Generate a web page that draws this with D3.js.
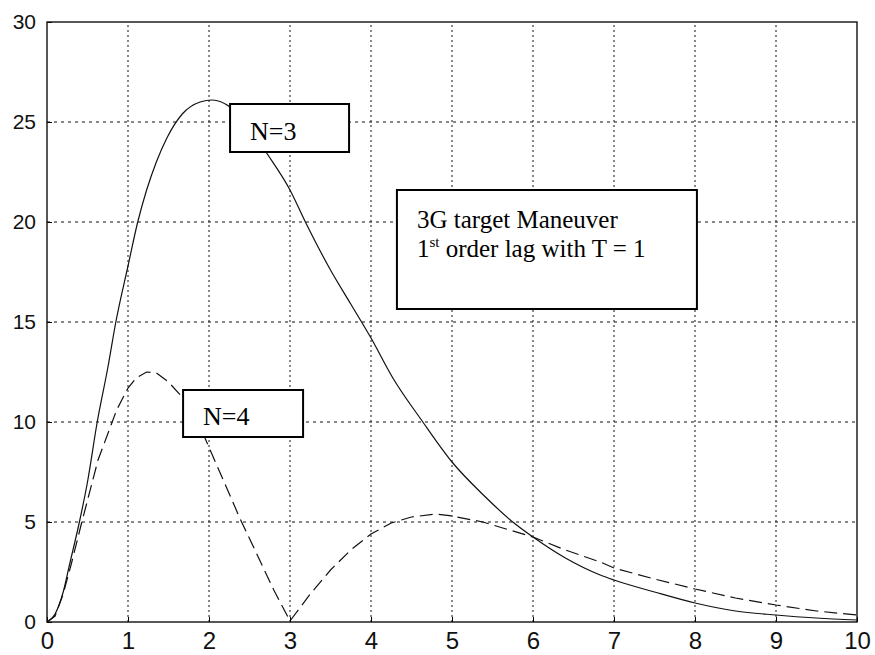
<!DOCTYPE html>
<html>
<head>
<meta charset="utf-8">
<script src="https://cdn.jsdelivr.net/npm/d3@7"></script>
<style>
  body { margin: 0; background: #fff; }
  .serif { font-family: "Liberation Serif", "DejaVu Serif", serif; }
</style>
</head>
<body>
<div id="chart"></div>
<script>
// N=3 (solid) and N=4 (dashed) curves
const n3Time  = [0, 0.1, 0.2, 0.28, 0.4, 0.5, 0.62, 0.75, 0.85, 1, 1.12, 1.23, 1.35, 1.48, 1.67, 1.89, 2.04, 2.26, 2.5, 2.72, 3, 3.19, 3.5, 3.75, 4, 4.27, 4.64, 5, 5.4, 5.75, 6, 6.4, 6.83, 7, 7.5, 8, 8.5, 9, 9.5, 10];
const n3Value = [0, 0.4, 1.5, 2.9, 5, 7, 10, 12.7, 15, 17.8, 20, 21.6, 23, 24.2, 25.4, 26, 26.1, 25.75, 24.7, 23.4, 21.6, 20, 17.6, 15.9, 14.2, 12.2, 10, 8, 6.3, 5, 4.25, 3.2, 2.35, 2.1, 1.5, 0.95, 0.55, 0.35, 0.2, 0.1];

const n4Time  = [0, 0.1, 0.2, 0.3, 0.43, 0.63, 0.86, 1, 1.1, 1.23, 1.35, 1.5, 1.68, 1.95, 2.38, 2.8, 3, 3.25, 3.5, 3.75, 4, 4.25, 4.5, 4.8, 5, 5.38, 6, 6.4, 6.83, 7, 7.5, 8, 8.5, 9, 9.5, 10];
const n4Value = [0, 0.3, 1.4, 2.9, 5, 8.1, 10.6, 11.7, 12.2, 12.5, 12.45, 12.0, 11.2, 9.2, 5.2, 1.6, 0.05, 1.4, 2.6, 3.6, 4.4, 4.95, 5.25, 5.4, 5.3, 5.0, 4.25, 3.6, 3.0, 2.7, 2.15, 1.65, 1.2, 0.85, 0.55, 0.35];

const xTickValues = [0, 1, 2, 3, 4, 5, 6, 7, 8, 9, 10];
const yTickValues = [0, 5, 10, 15, 20, 25, 30];

const width = 875;
const height = 655;
const margin = { top: 22, right: 18, bottom: 33, left: 47 };

const svg = d3.select("#chart")
  .append("svg")
  .attr("width", width)
  .attr("height", height);

const x = d3.scaleLinear().domain([0, 10]).range([margin.left, width - margin.right]);
const y = d3.scaleLinear().domain([0, 30]).range([height - margin.bottom, margin.top]);

// dotted grid
svg.append("g")
  .selectAll("line")
  .data(xTickValues.slice(1, -1))
  .join("line")
    .attr("x1", d => x(d)).attr("x2", d => x(d))
    .attr("y1", y(0)).attr("y2", y(30))
    .attr("stroke", "#111")
    .attr("stroke-width", 1)
    .attr("stroke-dasharray", "2,3");

svg.append("g")
  .selectAll("line")
  .data(yTickValues.slice(1, -1))
  .join("line")
    .attr("x1", x(0)).attr("x2", x(10))
    .attr("y1", d => y(d)).attr("y2", d => y(d))
    .attr("stroke", "#111")
    .attr("stroke-width", 1)
    .attr("stroke-dasharray", "3,4");

// axes (ticks inward)
const xAxis = svg.append("g")
  .attr("transform", `translate(0,${y(0)})`)
  .call(d3.axisBottom(x).tickValues(xTickValues).tickSizeInner(-5).tickSizeOuter(0).tickPadding(0));
xAxis.selectAll("text")
  .attr("y", 27)
  .attr("dy", null)
  .attr("font-family", "Liberation Sans, Arial, sans-serif")
  .attr("font-size", 24)
  .attr("fill", "#111");

const yAxis = svg.append("g")
  .attr("transform", `translate(${x(0)},0)`)
  .call(d3.axisLeft(y).tickValues(yTickValues).tickSizeInner(-5).tickSizeOuter(0).tickPadding(11));
yAxis.selectAll("text")
  .attr("font-family", "Liberation Sans, Arial, sans-serif")
  .attr("font-size", 21)
  .attr("fill", "#111");

svg.selectAll(".domain").remove();

// frame
svg.append("rect")
  .attr("x", x(0)).attr("y", y(30))
  .attr("width", x(10) - x(0)).attr("height", y(0) - y(30))
  .attr("fill", "none")
  .attr("stroke", "#111")
  .attr("stroke-width", 1.4);

const line = d3.line()
  .x(d => x(d[0]))
  .y(d => y(d[1]))
  .curve(d3.curveMonotoneX);

svg.append("path")
  .datum(d3.zip(n3Time, n3Value))
  .attr("d", line)
  .attr("fill", "none")
  .attr("stroke", "#111")
  .attr("stroke-width", 1.2);

svg.append("path")
  .datum(d3.zip(n4Time, n4Value))
  .attr("d", line.curve(d3.curveLinear))
  .attr("fill", "none")
  .attr("stroke", "#111")
  .attr("stroke-width", 1.2)
  .attr("stroke-dasharray", "13,6");

// annotation boxes
function noteBox(t0, v0, w, h) {
  return svg.append("rect")
    .attr("x", x(t0)).attr("y", y(v0))
    .attr("width", w).attr("height", h)
    .attr("fill", "#fff")
    .attr("stroke", "#000")
    .attr("stroke-width", 2);
}

noteBox(2.26, 25.9, 119, 48);
svg.append("text")
  .attr("class", "serif")
  .attr("x", x(2.26) + 20).attr("y", y(25.9) + 36)
  .attr("font-size", 26)
  .text("N=3");

noteBox(1.68, 11.6, 120, 47);
svg.append("text")
  .attr("class", "serif")
  .attr("x", x(1.68) + 20).attr("y", y(11.6) + 35)
  .attr("font-size", 26)
  .text("N=4");

noteBox(4.32, 21.6, 300, 119);
svg.append("text")
  .attr("class", "serif")
  .attr("x", x(4.32) + 20).attr("y", y(21.6) + 38)
  .attr("font-size", 25)
  .text("3G target Maneuver");

const l2 = svg.append("text")
  .attr("class", "serif")
  .attr("x", x(4.32) + 20).attr("y", y(21.6) + 67)
  .attr("font-size", 25);
l2.append("tspan").text("1");
l2.append("tspan").attr("dy", -10).attr("font-size", 15).text("st");
l2.append("tspan").attr("dy", 10).text(" order lag with T = 1");
</script>
</body>
</html>
